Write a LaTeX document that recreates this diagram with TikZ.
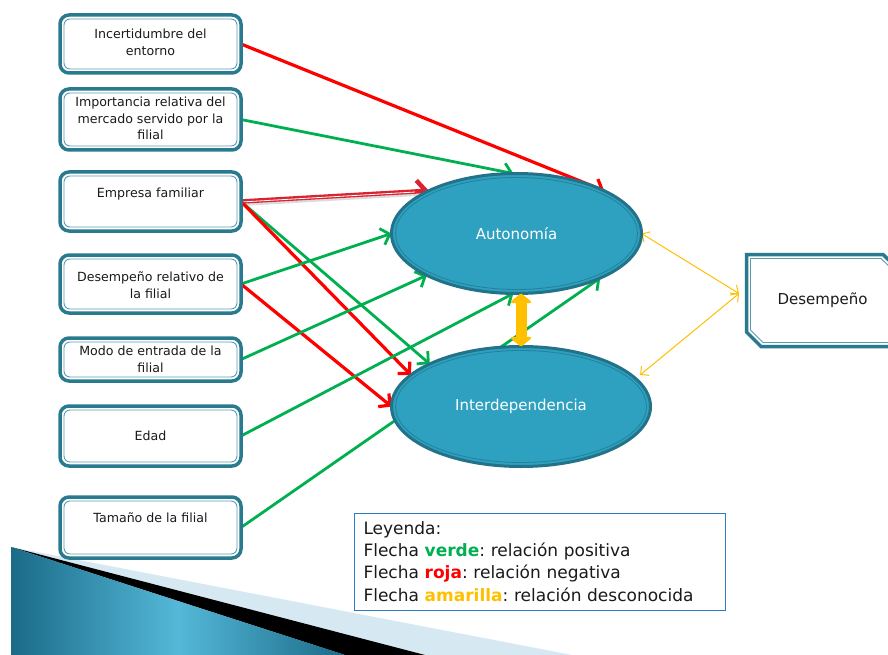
\documentclass[tikz,border=0pt]{standalone}
\usepackage{fontspec}
\setmainfont{DejaVu Sans}
\usetikzlibrary{arrows.meta,shapes.geometric,calc}
\frenchspacing
\definecolor{boxline}{HTML}{2A7A8F}
\definecolor{boxinner}{HTML}{5A9DB0}
\definecolor{ellfill}{HTML}{2DA1BF}
\definecolor{ellline}{HTML}{22728A}
\definecolor{vgreen}{HTML}{00B050}
\definecolor{vred}{HTML}{FF0000}
\definecolor{dred}{HTML}{DA2330}
\definecolor{vyel}{HTML}{FFC000}
\definecolor{legline}{HTML}{2E7BC4}
\definecolor{txt}{HTML}{1A1A1A}
\definecolor{lblue}{HTML}{D6E9F2}
\definecolor{decodark}{HTML}{1A6B88}
\definecolor{decolight}{HTML}{55B8D8}
\pgfdeclarelayer{bg}
\pgfsetlayers{bg,main}
\tikzset{
  box/.style={draw=boxline, line width=3.5pt, rounded corners=9pt, fill=white,
    minimum width=181pt, inner sep=0pt, outer sep=0pt},
  boxin/.style={draw=boxinner, line width=0.9pt, rounded corners=6pt},
  boxtext/.style={font=\fontsize{12.6}{16.5}\selectfont, align=center, text=txt, inner sep=0pt},
  ell/.style={ellipse, draw=ellline, line width=3pt, fill=ellfill, inner sep=0pt,
    outer sep=0pt, text=white, font=\fontsize{15}{18}\selectfont},
  ellin/.style={draw=ellline!70!ellfill, line width=0.8pt},
  garrow/.style={draw=vgreen, line width=2.8pt,
    -{Straight Barb[length=8pt,width=17pt]}},
  rarrow/.style={draw=vred, line width=3.2pt,
    -{Straight Barb[length=8pt,width=17pt]}},
  yarrow/.style={draw=vyel, line width=1pt,
    {Straight Barb[length=6pt,width=12pt]}-{Straight Barb[length=6pt,width=12pt]}},
  ythick/.style={draw=vyel, line width=11pt,
    {Triangle[length=10pt,width=24pt,round]}-{Triangle[length=10pt,width=24pt,round]}},
  legendbox/.style={draw=legline, line width=1pt, fill=white, text width=352pt,
    minimum height=97pt, inner xsep=9.5pt, align=left, text=txt,
    font=\fontsize{17}{22.3}\selectfont}
}
\begin{document}
\begin{tikzpicture}[x=1pt,y=-1pt]
\useasboundingbox (0,0) rectangle (888,655);

% boxes on the left
\node[box, minimum height=58pt] (b1) at (150.5,44) {};
\node[box, minimum height=61pt] (b2) at (150.5,119.5) {};
\node[box, minimum height=59pt] (b3) at (150.5,201.5) {};
\node[box, minimum height=58pt] (b4) at (150.5,284) {};
\node[box, minimum height=43pt] (b5) at (150.5,359.5) {};
\node[box, minimum height=60pt] (b6) at (150.5,436) {};
\node[box, minimum height=61pt] (b7) at (150.5,527.5) {};
\foreach \n in {b1,b2,b3,b4,b5,b6,b7}
  \draw[boxin] ([shift={(4,4)}]\n.north west) rectangle ([shift={(-4,-4)}]\n.south east);

\node[boxtext] (t1) at (150.5,42.5) {Incertidumbre del\\entorno};
\node[boxtext] (t2) at (150.5,118.5) {Importancia relativa del\\mercado servido por la\\filial};
\node[boxtext] (t3) at (150.5,194) {Empresa familiar};
\node[boxtext] (t4) at (150.5,285) {Desempeño relativo de\\la filial};
\node[boxtext] (t5) at (150.5,359.5) {Modo de entrada de la\\filial};
\node[boxtext] (t6) at (150.5,436) {Edad};
\node[boxtext] (t7) at (150.5,518) {Tamaño de la filial};

% ellipses
\node[ell, minimum width=250pt, minimum height=120pt] (aut) at (516.5,233.5) {Autonomía};
\draw[ellin] (aut.center) ellipse [x radius=121pt, y radius=56pt];
\node[ell, minimum width=259pt, minimum height=120pt] (int) at (521,406.5) {Interdependencia};
\draw[ellin] (int.center) ellipse [x radius=125.5pt, y radius=56pt];

% Desempeño box
\node[minimum width=143pt, minimum height=95pt, inner sep=0pt, outer sep=0pt] (desbox) at (816.5,300.5) {};
\draw[boxline, line width=3.5pt, line join=miter]
  (746.5,254.5) -- (883,254.5) -- (895,266) -- (895,346.5) -- (761,346.5) -- (746.5,332) -- cycle;
\draw[boxinner, line width=0.9pt]
  (750.5,258.5) -- (881,258.5) -- (895,272) -- (895,342.5) -- (763,342.5) -- (750.5,330) -- cycle;
\node[font=\fontsize{15}{18}\selectfont, text=txt] (destext) at (822.5,300) {Desempeño};
\coordinate (dp) at ([xshift=-6pt,yshift=7pt]desbox.west);

% legend
\node[legendbox] (leg) at (539.5,561.5) {Leyenda:\\
Flecha \textbf{\textcolor{vgreen}{verde}}: relación positiva\\
Flecha \textbf{\textcolor{vred}{roja}}: relación negativa\\
Flecha \textbf{\textcolor{vyel}{amarilla}}: relación desconocida};

\begin{pgfonlayer}{bg}
\fill[white] (0,0) rectangle (888,655);
% decoration bottom-left
\fill[lblue] (11,547) -- (572,655) -- (11,655) -- cycle;
\fill[black] (11,547) -- (425,655) -- (345,655) -- cycle;
\shade[left color=decodark, right color=decodark, middle color=decolight]
  (11,547) -- (345,655) -- (11,655) -- cycle;

% connectors
\draw[rarrow] (b1.east) -- (aut.26);
\draw[garrow] (b2.east) -- (aut.93);
% double red arrow with shadow
\draw[black!40, opacity=0.35, line width=4pt, shorten >=12pt] ([yshift=-2.5pt]b3.east) -- ([yshift=-2.5pt]aut.154);
\draw[draw=dred, line width=4.5pt, -{Straight Barb[length=9pt,width=22pt]}] (b3.east) -- (aut.154);
\draw[white, line width=0.8pt, shorten >=14pt] ([yshift=-0.5pt]b3.east) -- ([yshift=-0.5pt]aut.154);
\draw[garrow] (b3.east) -- (int.155);
\draw[rarrow] (b3.east) -- (int.164);
\draw[garrow] (b4.east) -- (aut.west);
\draw[rarrow] (b4.east) -- (int.west);
\draw[garrow] (b5.east) -- (aut.205);
\draw[garrow] (b6.east) -- (aut.267);
\draw[garrow] (b7.east) -- (aut.332);
\draw[yarrow] (aut.east) -- (dp);
\draw[yarrow] ([shift={(7pt,1.5pt)}]int.15) -- (dp);
\end{pgfonlayer}

\draw[ythick] (aut.south -| int.north) -- (int.north);
\end{tikzpicture}
\end{document}
